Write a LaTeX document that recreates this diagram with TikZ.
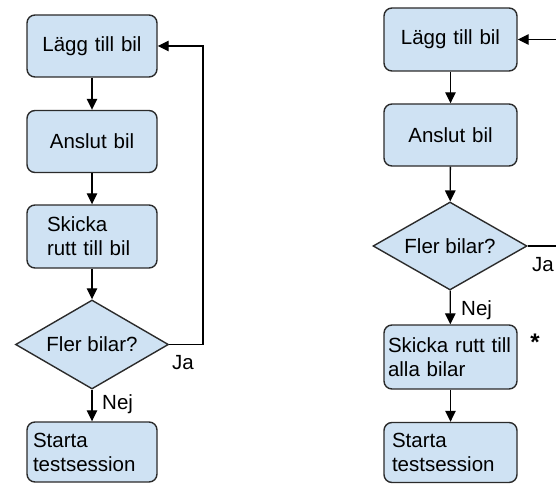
\documentclass[tikz,border=0pt]{standalone}
\usepackage{fontspec}
\setmainfont{Liberation Sans}
\usetikzlibrary{shapes.geometric,arrows.meta}
\definecolor{boxblue}{HTML}{CFE2F3}
\definecolor{edge}{HTML}{2B2B2B}
\tikzset{
  flowbox/.style={draw=edge, fill=boxblue, rounded corners=8pt, line width=1.4pt,
    minimum height=62pt, inner xsep=0pt, inner ysep=0pt, text width=130pt, align=center,
    font=\fontsize{20.5}{24}\selectfont},
  decide/.style={draw=edge, fill=boxblue, diamond, line width=1.4pt, inner sep=0pt,
    aspect=1.72, minimum width=153pt, minimum height=89pt,
    font=\fontsize{20.5}{24}\selectfont},
  conn/.style={line width=1.3pt, draw=black, -{Triangle[length=11pt,width=10.5pt]}},
  plainconn/.style={line width=1.3pt, draw=black},
  lbl/.style={font=\fontsize{20.5}{24}\selectfont, inner sep=0pt}
}
\begin{document}
\begin{tikzpicture}[x=1pt,y=-1pt]
\useasboundingbox (0,0) rectangle (556,484);
% ---- left chart ----
\node[flowbox] (L1) at (92,46) {Lägg till bil};
\node[flowbox] (L2) at (92,141.5) {Anslut bil};
\node[flowbox, inner xsep=20pt, text width=90pt, align=left, minimum height=63pt] (L3) at (92,236.5) {Skicka\\rutt till bil};
\node[decide] (LD) at (92,344.5) {Fler bilar?};
\node[flowbox, inner xsep=6pt, text width=118pt, align=left, minimum height=60pt] (L4) at (92,452) {Starta\\testsession};
\coordinate (LB) at (203,344.5);
\coordinate (LT) at (203,46);
\draw[conn] (L1) -- (L2);
\draw[conn] (L2) -- (L3);
\draw[conn] (L3) -- (LD);
\draw[conn] (LD) -- (L4);
\draw[conn] (LD.east) -- (LB) -- (LT) -- (L1.east);
\node[lbl, anchor=base west] (LJa) at (172,369) {Ja};
\node[lbl, anchor=base west] (LNej) at (102,409) {Nej};
% ---- right chart ----
\node[flowbox, text width=133pt, minimum height=63pt] (R1) at (450.5,39.5) {Lägg till bil};
\node[flowbox, text width=133pt] (R2) at (450.5,135) {Anslut bil};
\node[decide, minimum width=154pt, minimum height=88pt] (RD) at (450,246) {Fler bilar?};
\node[flowbox, inner xsep=4pt, text width=125pt, align=left, minimum height=64pt] (R3) at (450.5,357) {Skicka rutt till\\alla bilar};
\node[flowbox, inner xsep=8pt, text width=117pt, align=left, minimum height=60pt] (R4) at (450.5,452.5) {Starta\\testsession};
\coordinate (RB) at (560,246);
\coordinate (RT) at (560,39.5);
\draw[conn] (R1) -- (R2);
\draw[conn] (R2) -- (RD);
\draw[conn] (RD) -- (R3);
\draw[conn] (R3) -- (R4);
\draw[plainconn] (RD.east) -- (RB);
\draw[conn] (RT) -- (R1.east);
\node[lbl, anchor=base west] (RJa) at (532,271) {Ja};
\node[lbl, anchor=base west] (RNej) at (461,315) {Nej};
\node[lbl, anchor=base, font=\fontsize{24}{28}\bfseries] (RStar) at (535,350) {*};
\end{tikzpicture}
\end{document}
